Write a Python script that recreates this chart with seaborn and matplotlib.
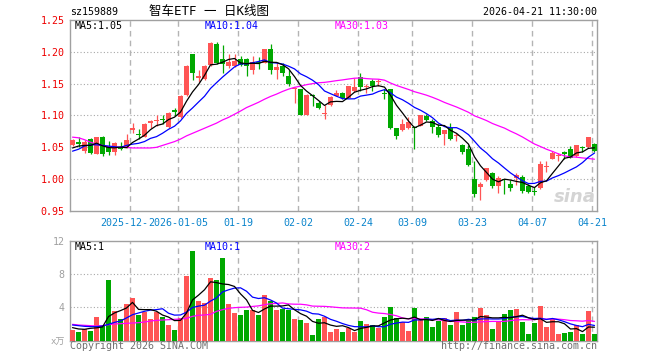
import matplotlib
matplotlib.use("Agg")
import matplotlib.pyplot as plt
import seaborn as sns
import numpy as np
import pandas as pd

# ---------------- data ----------------
dec = "08 09 10 11 12 15 16 17 18 19 22 23 24 25 26 29 30 31"
jan = "05 06 07 08 09 12 13 14 15 16 19 20 21 22 23 26 27 28 29 30"
feb = "02 03 04 05 06 09 10 11 12 13 24 25 26 27"
mar = "02 03 04 05 06 09 10 11 12 13 16 17 18 19 20 23 24 25 26 27 30 31"
apr = "01 02 03 07 08 09 10 13 14 15 16 17 20 21"
dates = (["2025-12-" + d for d in dec.split()] + ["2026-01-" + d for d in jan.split()]
         + ["2026-02-" + d for d in feb.split()] + ["2026-03-" + d for d in mar.split()]
         + ["2026-04-" + d for d in apr.split()])

tick_dates = ["2025-12-22", "2026-01-05", "2026-01-19", "2026-02-02", "2026-02-24",
              "2026-03-09", "2026-03-23", "2026-04-07", "2026-04-21"]
tick_labels = ["2025-12-22", "2026-01-05", "01-19", "02-02", "02-24",
               "03-09", "03-23", "04-07", "04-21"]

opens = [
    1.054, 1.057, 1.045, 1.063, 1.040, 1.067, 1.050, 1.043, 1.049, 1.050,
    1.078, 1.071, 1.067, 1.089, 1.091, 1.095, 1.082, 1.108, 1.097, 1.132,
    1.196, 1.159, 1.157, 1.179, 1.213, 1.188, 1.177, 1.178, 1.189, 1.188,
    1.171, 1.184, 1.183, 1.205, 1.171, 1.178, 1.162, 1.141, 1.141, 1.101,
    1.132, 1.119, 1.103, 1.116, 1.131, 1.136, 1.128, 1.138, 1.161, 1.145,
    1.154, 1.152, 1.134, 1.141, 1.080, 1.077, 1.080, 1.081, 1.084, 1.099,
    1.091, 1.082, 1.071, 1.081, 1.068, 1.054, 1.047, 1.000, 0.988, 0.998,
    1.010, 0.990, 0.999, 0.993, 1.002, 1.003, 0.990, 0.982, 0.986, 1.019,
    1.032, 1.036, 1.042, 1.048, 1.036, 1.051, 1.050, 1.055]
closes = [
    1.061, 1.056, 1.059, 1.041, 1.066, 1.040, 1.042, 1.057, 1.047, 1.061,
    1.081, 1.069, 1.087, 1.091, 1.093, 1.093, 1.104, 1.106, 1.131, 1.178,
    1.166, 1.162, 1.178, 1.214, 1.183, 1.181, 1.184, 1.186, 1.179, 1.177,
    1.184, 1.182, 1.204, 1.171, 1.176, 1.166, 1.150, 1.143, 1.101, 1.132,
    1.130, 1.112, 1.104, 1.129, 1.136, 1.128, 1.146, 1.144, 1.144, 1.147,
    1.146, 1.153, 1.133, 1.080, 1.068, 1.086, 1.090, 1.080, 1.100, 1.093,
    1.082, 1.069, 1.077, 1.063, 1.069, 1.043, 1.023, 0.977, 0.993, 1.017,
    0.990, 1.002, 0.998, 0.986, 1.006, 0.982, 0.980, 0.980, 1.024, 1.021,
    1.041, 1.038, 1.040, 1.034, 1.053, 1.049, 1.066, 1.044]
highs = [
    1.063, 1.066, 1.061, 1.064, 1.067, 1.068, 1.060, 1.058, 1.059, 1.071,
    1.088, 1.079, 1.088, 1.093, 1.101, 1.101, 1.106, 1.111, 1.132, 1.179,
    1.197, 1.172, 1.180, 1.215, 1.216, 1.211, 1.197, 1.197, 1.193, 1.190,
    1.193, 1.192, 1.205, 1.213, 1.183, 1.183, 1.172, 1.144, 1.142, 1.133,
    1.133, 1.123, 1.116, 1.130, 1.140, 1.137, 1.147, 1.159, 1.166, 1.150,
    1.157, 1.157, 1.141, 1.142, 1.081, 1.095, 1.097, 1.084, 1.101, 1.102,
    1.095, 1.086, 1.078, 1.089, 1.073, 1.055, 1.053, 1.029, 0.995, 1.018,
    1.012, 1.005, 1.001, 0.999, 1.010, 1.006, 0.992, 0.988, 1.028, 1.028,
    1.045, 1.041, 1.045, 1.052, 1.054, 1.052, 1.067, 1.057]
lows = [
    1.052, 1.050, 1.041, 1.040, 1.039, 1.037, 1.038, 1.038, 1.046, 1.049,
    1.072, 1.063, 1.066, 1.080, 1.084, 1.086, 1.081, 1.099, 1.096, 1.131,
    1.156, 1.153, 1.156, 1.178, 1.181, 1.167, 1.175, 1.176, 1.177, 1.162,
    1.165, 1.173, 1.182, 1.165, 1.157, 1.162, 1.147, 1.119, 1.100, 1.100,
    1.115, 1.110, 1.094, 1.115, 1.130, 1.126, 1.127, 1.137, 1.139, 1.136,
    1.139, 1.147, 1.126, 1.079, 1.063, 1.076, 1.079, 1.047, 1.083, 1.092,
    1.073, 1.066, 1.053, 1.062, 1.060, 1.040, 1.020, 0.972, 0.968, 0.997,
    0.986, 0.979, 0.976, 0.982, 0.991, 0.979, 0.978, 0.975, 0.985, 1.012,
    1.031, 1.028, 1.032, 1.033, 1.035, 1.043, 1.049, 1.043]
volumes = [
    1.27, 1.03, 1.35, 1.15, 2.83, 1.79, 7.30, 3.56, 2.55, 4.40,
    5.17, 3.08, 3.40, 2.59, 3.40, 2.87, 1.87, 1.27, 2.75, 7.78,
    10.79, 4.76, 4.52, 7.54, 7.30, 9.99, 4.40, 3.36, 3.08, 3.68,
    3.68, 3.08, 5.49, 4.80, 3.68, 3.80, 3.68, 2.59, 2.47, 2.11,
    0.66, 2.59, 2.87, 1.07, 1.35, 1.03, 1.47, 1.07, 2.35, 1.99,
    1.87, 1.55, 2.87, 4.08, 2.75, 2.19, 1.15, 3.96, 2.47, 2.87,
    1.63, 2.35, 2.75, 1.87, 3.44, 1.87, 2.35, 2.87, 3.96, 3.08,
    1.39, 2.35, 3.20, 3.68, 3.80, 2.23, 0.78, 2.11, 4.20, 1.63,
    2.59, 0.78, 0.90, 1.03, 1.87, 0.78, 3.56, 0.78]

# moving-average values before the window fills
ma5_head = [1.049, 1.052, 1.053, 1.053]
ma10_head = [1.044, 1.047, 1.052, 1.054, 1.054, 1.053, 1.052, 1.051, 1.050]
ma30_head = [1.066, 1.065, 1.062, 1.058, 1.055, 1.053, 1.051, 1.050, 1.050, 1.050,
             1.049, 1.049, 1.049, 1.049, 1.050, 1.053, 1.056, 1.059, 1.063, 1.068,
             1.072, 1.076, 1.080, 1.084, 1.088, 1.093, 1.097, 1.102, 1.107]
vma5_head = [1.55, 1.39, 1.35, 1.47]
vma10_head = [1.87, 1.79, 1.71, 1.67, 1.67, 1.75, 1.95, 2.19, 2.35]
vma30_head = [1.95, 1.87, 1.83, 1.79, 1.75, 1.79, 1.91, 1.99, 2.03, 2.07,
              2.11, 2.15, 2.23, 2.35, 2.43, 2.47, 2.51, 2.55, 2.59, 2.67,
              2.91, 3.04, 3.08, 3.16, 3.52, 3.72, 3.88, 3.96, 4.00]

price_ticks = [0.95, 1.00, 1.05, 1.10, 1.15, 1.20, 1.25]
vol_ticks = [4, 8, 12]

# ---------------- helpers ----------------
def moving(values, win, head):
    s = pd.Series(values, dtype=float).rolling(win).mean().to_numpy()
    s[:len(head)] = head
    return s

RED = "#FF5555"
GREEN = "#00A800"
GRID = "#B4B4B4"
FRAME = "#A0A0A0"
W, H = 660, 360

o = np.array(opens); c = np.array(closes)
hi = np.array(highs); lo = np.array(lows)
vol = np.array(volumes)
n = len(c)
idx = np.arange(n)
up = c >= o
cols = np.where(up, RED, GREEN)

ma5 = moving(closes, 5, ma5_head)
ma10 = moving(closes, 10, ma10_head)
ma30 = moving(closes, 30, ma30_head)
vma5 = moving(volumes, 5, vma5_head)
vma10 = moving(volumes, 10, vma10_head)
vma30 = moving(volumes, 30, vma30_head)

sns.set_style("white")
plt.rcParams['font.family'] = ['DejaVu Sans Mono', 'Noto Sans CJK SC']

fig = plt.figure(figsize=(W / 100, H / 100), dpi=100)
ax = fig.add_axes([70 / W, 149 / H, 527 / W, 191 / H])
axv = fig.add_axes([70 / W, 19.5 / H, 527 / W, 99.5 / H])

tick_idx = np.array([dates.index(d) for d in tick_dates])
tick_pos = tick_idx - 0.42
xlim = (-0.42, n - 0.58)

# ---------------- price panel ----------------
for p in price_ticks[1:-1]:
    ax.axhline(p, color="#A8A8A8", lw=0.8, ls=(0, (1, 2)), zorder=0)
for xp in tick_pos:
    ax.axvline(xp, color=GRID, lw=1.0, ls=(0, (4, 3)), zorder=0)

ax.vlines(idx, lo, hi, colors=cols, lw=0.9, zorder=2)
body_h = np.maximum(np.abs(c - o), 0.0016)
body_b = np.minimum(o, c)
ax.bar(idx, body_h, bottom=body_b, width=0.8, color=cols, linewidth=0, zorder=3)

sns.lineplot(x=idx, y=ma30, ax=ax, color="#FF00FF", lw=0.9, zorder=4)
sns.lineplot(x=idx, y=ma10, ax=ax, color="#0000FF", lw=0.9, zorder=5)
sns.lineplot(x=idx, y=ma5, ax=ax, color="black", lw=0.9, zorder=6)

ax.set_xlim(*xlim)
ax.set_ylim(0.95, 1.25)
ax.set_yticks(price_ticks)
ax.set_yticklabels([f"{p:.2f}" for p in price_ticks], color="#EE0000", fontsize=7.2)
ax.set_xticks(tick_pos)
ax.set_xticklabels(tick_labels, color="#0A84CC", fontsize=7.2)
ax.tick_params(axis="both", length=0, pad=4)
ax.tick_params(axis="x", pad=5)
# the second date label is drawn over the first one, as in the original
ax.get_xticklabels()[1].set_bbox(dict(facecolor="white", edgecolor="none", pad=0.5))
ax.set_xlabel(""); ax.set_ylabel("")
for sp in ax.spines.values():
    sp.set_color(FRAME); sp.set_linewidth(1.0)

# ---------------- volume panel ----------------
for v in vol_ticks[:-1]:
    axv.axhline(v, color="#A8A8A8", lw=0.8, ls=(0, (1, 2)), zorder=0)
for xp in tick_pos:
    axv.axvline(xp, color=GRID, lw=1.0, ls=(0, (4, 3)), zorder=0)

vdf = pd.DataFrame({"i": idx, "vol": vol, "dir": np.where(up, "up", "down")})
sns.barplot(data=vdf, x="i", y="vol", hue="dir", palette={"up": RED, "down": GREEN},
            native_scale=True, dodge=False, width=0.8, saturation=1,
            errorbar=None, legend=False, linewidth=0, ax=axv, zorder=3)

sns.lineplot(x=idx, y=vma30, ax=axv, color="#FF00FF", lw=0.9, zorder=4)
sns.lineplot(x=idx, y=vma10, ax=axv, color="#0000FF", lw=0.9, zorder=5)
sns.lineplot(x=idx, y=vma5, ax=axv, color="black", lw=0.9, zorder=6)

axv.set_xlim(*xlim)
axv.set_ylim(0, 12)
axv.set_yticks(vol_ticks)
axv.set_yticklabels([str(v) for v in vol_ticks], color="#A0A0A0", fontsize=7.2)
axv.set_xticks(tick_pos)
axv.set_xticklabels([])
axv.tick_params(axis="both", length=0, pad=4)
axv.set_xlabel(""); axv.set_ylabel("")
for sp in axv.spines.values():
    sp.set_color(FRAME); sp.set_linewidth(1.0)

# ---------------- texts ----------------
def ftext(x, y, s, **kw):
    fig.text(x / W, 1 - y / H, s, va="center", **kw)

ftext(70, 12, "sz159889", ha="left", fontsize=7.2, color="black")
ftext(209, 12, "智车ETF 一 日K线图", ha="center", fontsize=9, color="black")
ftext(597, 12, "2026-04-21 11:30:00", ha="right", fontsize=7.2, color="black")

ftext(75, 26, "MA5:1.05", ha="left", fontsize=7.2, color="black")
ftext(205, 26, "MA10:1.04", ha="left", fontsize=7.2, color="#0000FF")
ftext(335, 26, "MA30:1.03", ha="left", fontsize=7.2, color="#FF00FF")

ftext(75, 247, "MA5:1", ha="left", fontsize=7.2, color="black")
ftext(205, 247, "MA10:1", ha="left", fontsize=7.2, color="#0000FF")
ftext(335, 247, "MA30:2", ha="left", fontsize=7.2, color="#FF00FF")

ftext(65, 342, "x万", ha="right", fontsize=6.5, color="#A0A0A0")
ftext(70, 346, "Copyright 2026 SINA.COM", ha="left", fontsize=7.2, color="#707070")
ftext(597, 346, "http://finance.sina.com.cn", ha="right", fontsize=7.2, color="#707070")

ftext(596, 197, "sina", ha="right", fontsize=13, color="#D4D4D4",
      fontstyle="italic", fontweight="bold", family="DejaVu Sans")

fig.savefig("out.png", dpi=100)
